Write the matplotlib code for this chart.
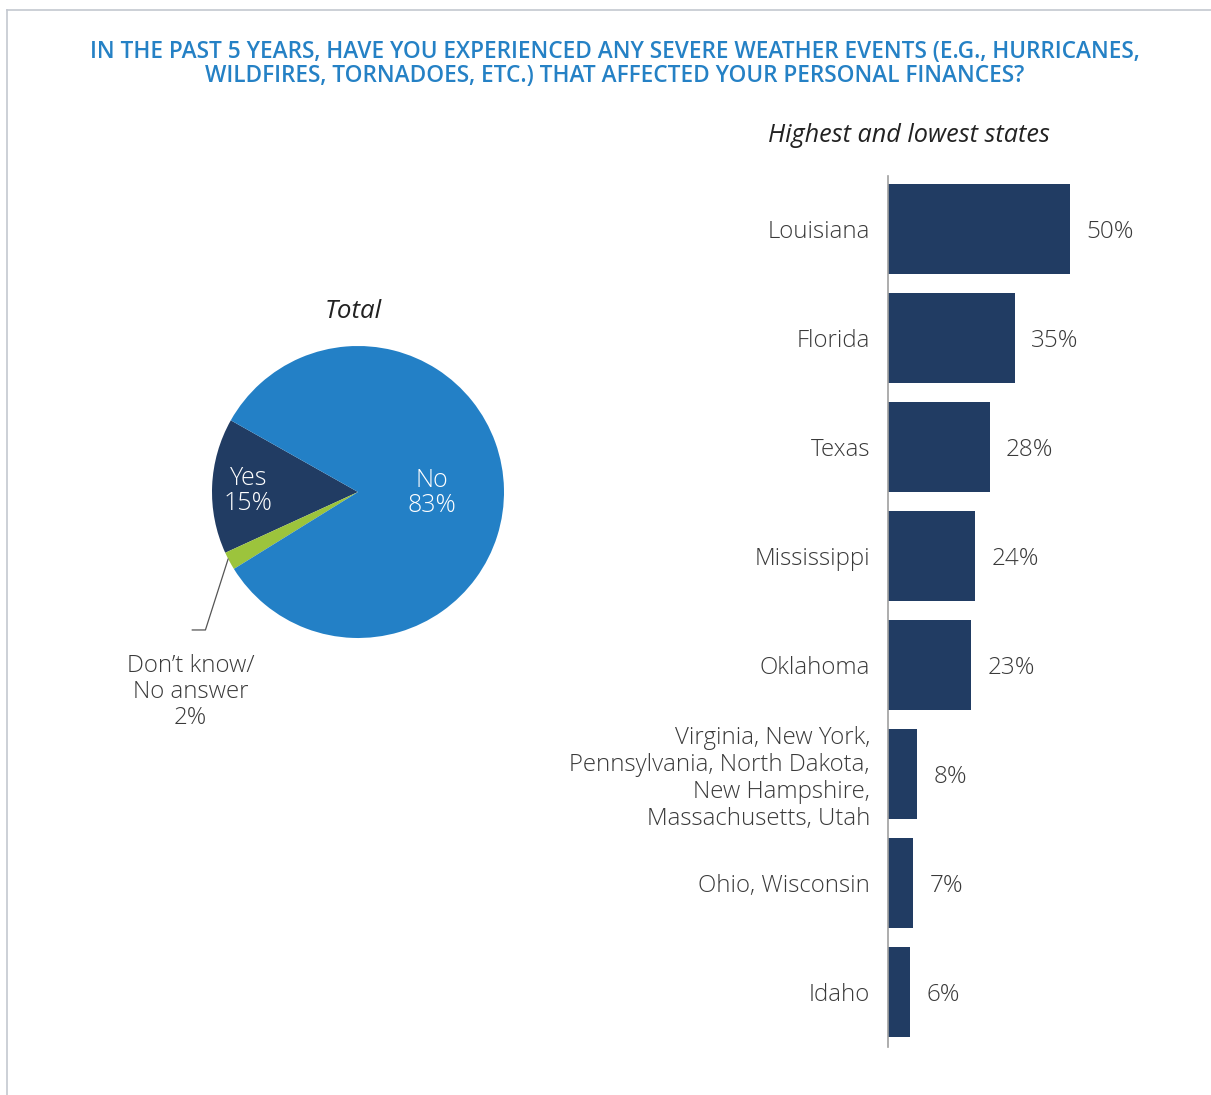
import matplotlib
matplotlib.use('Agg')
import matplotlib.pyplot as plt

# pie data
pie_labels = ['Yes', "Don\u2019t know/\nNo answer", 'No']
pie_values = [15, 2, 83]
pie_colors = ['#213c63', '#9cc43c', '#2380c6']

# bar data
states = ['Louisiana', 'Florida', 'Texas', 'Mississippi', 'Oklahoma',
          'Virginia, New York,\nPennsylvania, North Dakota,\nNew Hampshire,\nMassachusetts, Utah',
          'Ohio, Wisconsin', 'Idaho']
state_values = [50, 35, 28, 24, 23, 8, 7, 6]

navy = '#213c63'
txt = '#3a3a3a'
plt.rcParams['font.family'] = ['Open Sans', 'DejaVu Sans']

W, H = 1211, 1095
fig = plt.figure(figsize=(W / 100, H / 100), dpi=100)

# frame lines at top and left
fig.add_artist(plt.Line2D([7 / W, 1], [1 - 10 / H, 1 - 10 / H], color='#c3c8d0', lw=1.2))
fig.add_artist(plt.Line2D([7 / W, 7 / W], [0, 1 - 10 / H], color='#c3c8d0', lw=1.2))

fig.text(615 / W, 1 - 64 / H,
         'IN THE PAST 5 YEARS, HAVE YOU EXPERIENCED ANY SEVERE WEATHER EVENTS (E.G., HURRICANES,\n'
         'WILDFIRES, TORNADOES, ETC.) THAT AFFECTED YOUR PERSONAL FINANCES?',
         ha='center', va='center', fontsize=16.3, fontweight='semibold',
         color='#2581c5', linespacing=1.05)

# ---- pie ----
cx, cy, r = 358, 492, 146
pax = fig.add_axes([(cx - r) / W, (H - cy - r) / H, 2 * r / W, 2 * r / H])
pax.pie(pie_values, colors=pie_colors, startangle=150.6, radius=1,
        wedgeprops=dict(linewidth=0))
pax.set_xlim(-1, 1)
pax.set_ylim(-1, 1)
pax.set_aspect('auto')
pax.axis('off')

pax.text(-0.75, 0.01, f'{pie_labels[0]}\n{pie_values[0]}%', ha='center', va='center',
         color='white', fontsize=18, linespacing=1.0, fontweight='light')
pax.text(0.505, -0.005, f'{pie_labels[2]}\n{pie_values[2]}%', ha='center', va='center',
         color='white', fontsize=18, linespacing=1.0, fontweight='light')
pax.text(-1.147, -1.37, f'{pie_labels[1]}\n{pie_values[1]}%', ha='center', va='center',
         color=txt, fontsize=17.3, linespacing=1.12, fontweight='light')
pax.plot([-0.89, -1.045, -1.135], [-0.46, -0.945, -0.945], color='#555555', lw=0.9,
         clip_on=False)
pax.text(-0.03, 1.233, 'Total', ha='center', va='center', fontsize=18.6,
         style='italic', color='#222222')

# ---- bars ----
x0, x1 = 888, 1200
y_top, y_bot = 176, 1047
bax = fig.add_axes([x0 / W, (H - y_bot) / H, (x1 - x0) / W, (y_bot - y_top) / H])
pos = list(range(len(states)))
bax.barh(pos, state_values, height=0.826, color=navy)
bax.set_xlim(0, (x1 - x0) / 3.63)
bax.set_ylim((y_bot - 229) / 109, -(229 - y_top) / 109)
for s in ['top', 'right', 'bottom']:
    bax.spines[s].set_visible(False)
bax.spines['left'].set_color('#a0a0a0')
bax.spines['left'].set_linewidth(1.2)
bax.set_xticks([])
bax.set_yticks(pos)
bax.set_yticklabels(states, fontsize=17.3, color=txt, linespacing=1.18, fontweight='light')
bax.tick_params(axis='y', length=0, pad=13)
for p, v in zip(pos, state_values):
    bax.text(v + 4.5, p + 0.025, f'{v}%', va='center', ha='left', fontsize=17.5, color=txt,
             fontweight='light')

fig.text(909 / W, 1 - 135 / H, 'Highest and lowest states', ha='center', va='center',
         fontsize=18.2, style='italic', color='#222222')

fig.savefig('out.png', dpi=100, facecolor='white')
